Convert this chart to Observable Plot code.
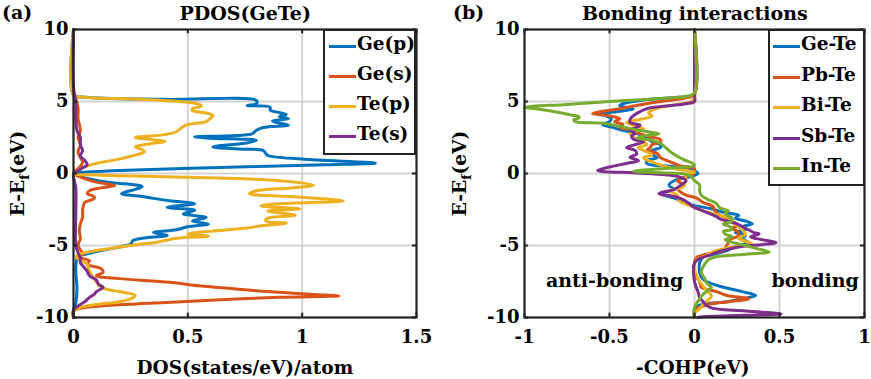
<!DOCTYPE html>
<html><head><meta charset="utf-8">
<script src="https://cdn.jsdelivr.net/npm/d3@7"></script>
<script src="https://cdn.jsdelivr.net/npm/@observablehq/plot@0.6"></script>
<style>
html,body{margin:0;padding:0;background:#fff;}
#wrap{position:relative;width:871px;height:379px;overflow:hidden;font-family:"DejaVu Serif",serif;font-weight:bold;color:#000;}
.abs{position:absolute;white-space:nowrap;}
.lbl{font-size:18.5px;}
.ttl{font-size:19px;}
.legend{position:absolute;background:#fff;border:2px solid #222;box-sizing:border-box;}
.entry{position:absolute;left:0;height:30px;font-size:18.5px;}
.entry .sw{position:absolute;top:14px;height:3px;width:27px;}
.entry .tx{position:absolute;top:2px;}
</style></head>
<body><div id="wrap"></div>
<script>
// ---------- Panel (a): PDOS(GeTe), pairs [E, DOS] ----------
const pdosNames = ["Ge(p)", "Ge(s)", "Te(p)", "Te(s)"];
const geP = [[10,0],[5.45,0],[5.3,0.05],[5.15,0.4],[5.07,0.80],[4.85,0.80],[4.72,0.76],[4.6,0.86],[4.4,0.86],[4.26,0.89],[4.1,0.93],[3.95,0.9],[3.8,0.94],[3.65,0.87],[3.5,0.9],[3.35,0.94],[3.2,0.83],[3.0,0.8],[2.75,0.78],[2.55,0.53],[2.45,0.6],[2.3,0.80],[2.1,0.75],[1.85,0.61],[1.7,0.72],[1.6,0.83],[1.4,0.84],[1.25,0.85],[1.0,1.0],[0.72,1.32],[0.6,1.1],[0.4,0.6],[0.2,0.2],[0.05,0.02],[0,0],[-0.3,0.05],[-0.6,0.15],[-0.9,0.30],[-1.1,0.27],[-1.4,0.21],[-1.6,0.3],[-1.9,0.42],[-2.1,0.53],[-2.35,0.41],[-2.55,0.53],[-2.8,0.48],[-3.05,0.58],[-3.3,0.52],[-3.5,0.59],[-3.7,0.5],[-3.9,0.45],[-4.1,0.35],[-4.3,0.41],[-4.5,0.3],[-4.65,0.26],[-4.9,0.25],[-5.2,0.17],[-5.5,0.08],[-5.8,0.02],[-6.5,0.01],[-8,0.015],[-9,0.01],[-9.5,0],[-10,0]];
const geS = [[10,0],[5.5,0],[5.2,0.01],[4.5,0.02],[3.8,0.02],[3,0.03],[2.5,0.02],[2.0,0.03],[1.5,0.02],[1.1,0.03],[0.8,0.04],[0.5,0.03],[0.2,0.01],[0,0],[-0.3,0.04],[-0.6,0.1],[-0.83,0.18],[-1.0,0.12],[-1.2,0.07],[-1.4,0.06],[-1.6,0.09],[-1.75,0.09],[-2.0,0.05],[-2.5,0.04],[-3,0.04],[-3.5,0.03],[-4,0.025],[-4.5,0.03],[-5,0.02],[-5.3,0.03],[-5.6,0.04],[-5.8,0.02],[-6.05,0.07],[-6.3,0.06],[-6.6,0.12],[-6.85,0.13],[-7.1,0.1],[-7.3,0.2],[-7.55,0.42],[-7.8,0.55],[-8.0,0.70],[-8.2,0.85],[-8.4,1.05],[-8.5,1.16],[-8.6,0.9],[-8.8,0.6],[-9.0,0.35],[-9.2,0.12],[-9.4,0.02],[-9.6,0],[-10,0]];
const teP = [[10,0],[5.45,0],[5.3,0.05],[5.15,0.3],[4.95,0.50],[4.8,0.55],[4.67,0.56],[4.5,0.52],[4.37,0.52],[4.2,0.58],[4.03,0.61],[3.85,0.6],[3.6,0.58],[3.4,0.5],[3.15,0.47],[2.9,0.45],[2.7,0.4],[2.5,0.27],[2.35,0.35],[2.25,0.40],[2.05,0.33],[1.85,0.27],[1.65,0.3],[1.5,0.31],[1.2,0.25],[1.0,0.2],[0.7,0.1],[0.4,0.04],[0,0],[-0.1,0.1],[-0.3,0.6],[-0.5,0.9],[-0.8,1.05],[-1.0,0.95],[-1.2,0.8],[-1.4,0.77],[-1.6,0.95],[-1.9,1.18],[-2.1,0.9],[-2.25,0.82],[-2.45,0.99],[-2.6,0.85],[-2.9,0.97],[-3.1,0.85],[-3.3,0.84],[-3.45,0.93],[-3.6,0.84],[-3.8,0.75],[-4.05,0.57],[-4.2,0.5],[-4.35,0.59],[-4.5,0.45],[-4.75,0.37],[-5.0,0.25],[-5.3,0.12],[-5.6,0.03],[-5.8,0.01],[-6.0,0.03],[-6.3,0.06],[-6.8,0.07],[-7.3,0.09],[-7.9,0.12],[-8.2,0.2],[-8.47,0.27],[-8.7,0.25],[-8.9,0.2],[-9.1,0.1],[-9.3,0.03],[-9.6,0],[-10,0]];
const teS = [[10,0],[6,0],[5,0.01],[4,0.01],[3,0.015],[2.5,0.03],[2.0,0.03],[1.6,0.04],[1.2,0.03],[0.9,0.05],[0.6,0.06],[0.4,0.04],[0.2,0.02],[0,0],[-1,0.01],[-3,0.01],[-5,0.01],[-5.5,0.02],[-5.9,0.03],[-6.2,0.03],[-6.4,0.04],[-6.8,0.06],[-7.1,0.07],[-7.4,0.10],[-7.7,0.11],[-7.9,0.13],[-8.2,0.1],[-8.4,0.09],[-8.6,0.07],[-8.9,0.05],[-9.2,0.02],[-9.5,0],[-10,0]];

// ---------- Panel (b): Bonding interactions, pairs [E, -COHP] ----------
const cohpNames = ["Ge-Te", "Pb-Te", "Bi-Te", "Sb-Te", "In-Te"];
const geTe = [[10,0],[5.5,0],[5.35,-0.05],[5.1,-0.3],[4.85,-0.42],[4.7,-0.44],[4.5,-0.36],[4.3,-0.45],[4.15,-0.56],[4.0,-0.52],[3.8,-0.49],[3.6,-0.5],[3.4,-0.54],[3.2,-0.48],[3.05,-0.44],[2.8,-0.35],[2.6,-0.3],[2.4,-0.27],[2.2,-0.25],[2.0,-0.2],[1.8,-0.2],[1.6,-0.25],[1.35,-0.25],[1.1,-0.22],[0.9,-0.28],[0.7,-0.28],[0.5,-0.15],[0.35,-0.03],[0.2,0.0],[0,0.02],[-0.2,-0.02],[-0.5,-0.12],[-0.83,-0.15],[-1.1,-0.12],[-1.4,-0.2],[-1.6,-0.15],[-1.7,-0.12],[-2.0,-0.05],[-2.2,-0.01],[-2.45,0.1],[-2.7,0.17],[-2.9,0.26],[-3.1,0.24],[-3.3,0.3],[-3.5,0.34],[-3.7,0.28],[-3.9,0.3],[-4.1,0.24],[-4.3,0.3],[-4.5,0.28],[-4.8,0.32],[-5.0,0.25],[-5.3,0.2],[-5.6,0.12],[-5.8,0.05],[-6.2,0.03],[-6.85,0.03],[-7.2,0.04],[-7.5,0.07],[-7.9,0.17],[-8.2,0.28],[-8.47,0.36],[-8.7,0.28],[-8.9,0.19],[-9.05,0.07],[-9.2,0.02],[-9.4,0],[-10,0]];
const pbTe = [[10,0],[5.5,0],[5.25,-0.05],[5.0,-0.2],[4.7,-0.35],[4.5,-0.44],[4.3,-0.55],[4.15,-0.6],[4.0,-0.5],[3.8,-0.44],[3.6,-0.47],[3.4,-0.42],[3.2,-0.44],[3.05,-0.38],[2.8,-0.33],[2.6,-0.28],[2.35,-0.2],[2.2,-0.2],[2.0,-0.25],[1.8,-0.26],[1.6,-0.28],[1.4,-0.22],[1.1,-0.2],[0.85,-0.15],[0.55,-0.09],[0.35,0.0],[0.2,0.0],[0,0.0],[-0.2,-0.05],[-0.5,-0.1],[-0.8,-0.06],[-1.05,-0.1],[-1.2,-0.09],[-1.5,-0.05],[-1.7,0.01],[-2.0,0.05],[-2.3,0.11],[-2.6,0.12],[-2.9,0.15],[-3.0,0.17],[-3.3,0.22],[-3.6,0.26],[-3.8,0.22],[-4.0,0.25],[-4.3,0.26],[-4.6,0.21],[-5.0,0.19],[-5.35,0.17],[-5.6,0.07],[-5.85,0.01],[-6.2,0.0],[-7.0,0.0],[-7.5,0.03],[-7.9,0.04],[-8.2,0.13],[-8.47,0.19],[-8.7,0.32],[-8.9,0.2],[-9.1,0.08],[-9.3,0.03],[-9.5,0],[-10,0]];
const biTe = [[10,0],[5.3,0],[5.0,-0.02],[4.8,-0.1],[4.6,-0.2],[4.4,-0.25],[4.2,-0.27],[4.0,-0.25],[3.8,-0.3],[3.55,-0.4],[3.3,-0.35],[3.1,-0.3],[2.8,-0.38],[2.6,-0.36],[2.4,-0.35],[2.2,-0.3],[2.0,-0.28],[1.8,-0.33],[1.6,-0.3],[1.3,-0.25],[1.1,-0.3],[0.8,-0.25],[0.5,-0.18],[0.3,-0.1],[0.1,0.0],[-0.1,-0.05],[-0.5,-0.05],[-0.95,-0.07],[-1.2,-0.15],[-1.5,-0.1],[-1.9,-0.09],[-2.3,-0.01],[-2.6,0.05],[-3.0,0.17],[-3.4,0.22],[-3.8,0.27],[-4.2,0.3],[-4.5,0.26],[-4.7,0.3],[-4.9,0.34],[-5.1,0.22],[-5.4,0.12],[-5.7,0.07],[-6.0,0.01],[-6.5,0.0],[-7.3,0.02],[-7.8,0.05],[-8.1,0.07],[-8.5,0.1],[-8.8,0.08],[-9.1,0.05],[-9.4,0.03],[-9.7,0],[-10,0]];
const sbTe = [[10,0],[5.5,0],[5.0,0.0],[4.85,-0.05],[4.7,-0.15],[4.5,-0.28],[4.3,-0.32],[4.1,-0.35],[3.9,-0.37],[3.7,-0.38],[3.55,-0.38],[3.35,-0.32],[3.2,-0.34],[3.0,-0.38],[2.8,-0.35],[2.6,-0.37],[2.4,-0.36],[2.2,-0.3],[2.0,-0.35],[1.8,-0.4],[1.6,-0.35],[1.35,-0.34],[1.13,-0.38],[0.9,-0.33],[0.7,-0.4],[0.45,-0.5],[0.2,-0.57],[0.05,-0.36],[-0.02,-0.25],[-0.2,-0.1],[-0.5,-0.05],[-0.8,-0.08],[-1.1,-0.12],[-1.4,-0.21],[-1.6,-0.12],[-1.8,-0.07],[-2.1,-0.03],[-2.3,-0.01],[-2.6,0.05],[-3.0,0.13],[-3.15,0.15],[-3.5,0.25],[-3.8,0.3],[-4.1,0.35],[-4.2,0.38],[-4.4,0.33],[-4.6,0.4],[-4.8,0.48],[-5.1,0.26],[-5.4,0.15],[-5.7,0.08],[-5.9,0.03],[-6.2,0.0],[-7.5,0.0],[-8.2,0.02],[-8.6,0.03],[-8.9,0.05],[-9.3,0.09],[-9.55,0.3],[-9.75,0.51],[-9.85,0.3],[-9.95,0.05],[-10,0.02]];
const inTe = [[10,0],[5.6,0],[5.4,-0.03],[5.2,-0.2],[5.0,-0.5],[4.8,-0.75],[4.6,-1.0],[4.45,-0.9],[4.2,-0.78],[4.05,-0.72],[3.95,-0.68],[3.85,-0.68],[3.75,-0.71],[3.6,-0.70],[3.5,-0.55],[3.3,-0.45],[3.0,-0.33],[2.75,-0.21],[2.6,-0.3],[2.45,-0.34],[2.3,-0.25],[2.1,-0.2],[1.8,-0.17],[1.4,-0.13],[1.0,-0.07],[0.7,-0.01],[0.55,0.0],[0.4,-0.12],[0.15,-0.36],[0.05,-0.2],[-0.05,-0.05],[-0.2,-0.02],[-0.5,0.0],[-0.8,0.03],[-1.2,0.03],[-1.5,0.04],[-1.75,0.07],[-2.1,0.13],[-2.4,0.15],[-2.6,0.2],[-2.75,0.18],[-2.9,0.19],[-3.1,0.22],[-3.3,0.22],[-3.5,0.17],[-3.7,0.21],[-3.9,0.22],[-4.0,0.17],[-4.2,0.18],[-4.4,0.22],[-4.6,0.18],[-4.8,0.23],[-5.0,0.3],[-5.2,0.36],[-5.45,0.44],[-5.6,0.3],[-5.8,0.12],[-6.0,0.08],[-6.3,0.06],[-6.85,0.04],[-7.3,0.06],[-7.6,0.07],[-7.9,0.1],[-8.1,0.08],[-8.4,0.05],[-8.7,0.03],[-9.3,0.0],[-10,0]];

// ---------- ticks, colours, annotations ----------
const yTicks = [-10, -5, 0, 5, 10];
const xTicksA = [0, 0.5, 1, 1.5];
const xTicksB = [-1, -0.5, 0, 0.5, 1];
const colors = ["#0072BD", "#D95319", "#EDB120", "#7E2F8E", "#77AC30"];
const annotLabels = ["anti-bonding", "bonding"];
const annotX = [-0.47, 0.71];
const annotY = [-7.45, -7.45];

const seriesA = [geP, geS, teP, teS];
const seriesB = [geTe, pbTe, biTe, sbTe, inTe];

const fmt = d => String(d);
const gridStyle = {stroke: "#d4d4d4", strokeWidth: 2, strokeOpacity: 1};
const styleObj = {fontFamily: "DejaVu Serif", fontWeight: "bold", fontSize: "18px", color: "#000", background: "transparent", overflow: "visible"};

function panel(opts) {
  const {width, marginLeft, marginRight, xDomain, xTicks, series} = opts;
  const [x0, x1] = xDomain;
  const dx = (x1 - x0) * 0.012;
  return Plot.plot({
    width, height: 379,
    marginLeft, marginRight, marginTop: 29, marginBottom: 62,
    x: {domain: xDomain},
    y: {domain: [-10, 10]},
    style: styleObj,
    marks: [
      Plot.gridX(xTicks.slice(1, -1), gridStyle),
      Plot.gridY(yTicks.slice(1, -1), gridStyle),
      Plot.axisX(xTicks, {tickSize: 0, tickPadding: 13, tickFormat: fmt, label: null, fontSize: 18}),
      Plot.axisY(yTicks, {tickSize: 0, tickPadding: 5, tickFormat: fmt, label: null, fontSize: 18}),
      ...series.map((s, i) => Plot.line(s, {x: d => d[1], y: d => d[0], stroke: colors[i], strokeWidth: 3, curve: "catmull-rom"})),
      Plot.ruleX(xTicks, {x: d => d, y1: -10, y2: -9.7, stroke: "#222", strokeWidth: 2}),
      Plot.ruleX(xTicks, {x: d => d, y1: 10, y2: 9.7, stroke: "#222", strokeWidth: 2}),
      Plot.ruleY(yTicks, {y: d => d, x1: x0, x2: x0 + dx, stroke: "#222", strokeWidth: 2}),
      Plot.ruleY(yTicks, {y: d => d, x1: x1 - dx, x2: x1, stroke: "#222", strokeWidth: 2}),
      Plot.frame({stroke: "#222", strokeWidth: 2.2}),
      ...(opts.after || [])
    ]
  });
}

const wrap = document.getElementById("wrap");

const svgA = panel({width: 440, marginLeft: 73, marginRight: 24, xDomain: [0, 1.5], xTicks: xTicksA, series: seriesA});
svgA.style.position = "absolute"; svgA.style.left = "0px"; svgA.style.top = "0px";
wrap.appendChild(svgA);

const annot = annotLabels.map((t, i) => ({t, x: annotX[i], y: annotY[i]}));
const svgB = panel({width: 431, marginLeft: 84, marginRight: 7, xDomain: [-1, 1], xTicks: xTicksB, series: seriesB,
  after: [Plot.text(annot, {x: "x", y: "y", text: "t", fontSize: 19, fontWeight: "bold", fill: "#000", stroke: "#fff", strokeWidth: 4, paintOrder: "stroke"})]});
svgB.style.position = "absolute"; svgB.style.left = "440px"; svgB.style.top = "0px";
wrap.appendChild(svgB);

function addText(html, left, top, cls) {
  const d = document.createElement("div");
  d.className = "abs " + cls;
  d.innerHTML = html;
  d.style.left = left + "px"; d.style.top = top + "px";
  wrap.appendChild(d);
  return d;
}
function centered(html, cx, cy, cls, rotate) {
  const d = addText(html, 0, 0, cls);
  const w = d.offsetWidth, h = d.offsetHeight;
  d.style.left = (cx - w / 2) + "px";
  d.style.top = (cy - h / 2) + "px";
  if (rotate) { d.style.transformOrigin = "50% 50%"; d.style.transform = "rotate(-90deg)"; }
  return d;
}

// titles and panel letters
centered("PDOS(GeTe)", 245, 13, "ttl");
centered("Bonding interactions", 695, 13, "ttl");
addText("(a)", 2, 1, "ttl");
addText("(b)", 453, 1, "ttl");
// axis labels
centered("DOS(states/eV)/atom", 245, 367, "lbl");
centered("-COHP(eV)", 693, 367, "lbl");
const ylab = "E-E<sub style='font-size:13px;vertical-align:-5px'>f</sub>(eV)";
centered(ylab, 19, 173, "lbl", true);
centered(ylab, 461, 173, "lbl", true);

// legends
function legend(names, left, top, w, h, rowH, firstY, swLeft, txLeft) {
  const box = document.createElement("div");
  box.className = "legend";
  Object.assign(box.style, {left: left + "px", top: top + "px", width: w + "px", height: h + "px"});
  names.forEach((n, i) => {
    const e = document.createElement("div");
    e.className = "entry";
    e.style.top = (firstY + i * rowH - 15) + "px";
    e.style.width = w + "px";
    e.innerHTML = `<div class="sw" style="left:${swLeft}px;background:${colors[i]}"></div><div class="tx" style="left:${txLeft}px">${n}</div>`;
    box.appendChild(e);
  });
  wrap.appendChild(box);
}
legend(pdosNames, 323, 29, 93, 126, 30, 15, 4, 32);
legend(cohpNames, 768, 29, 97, 157, 30.5, 15, 3, 31);
</script></body></html>
